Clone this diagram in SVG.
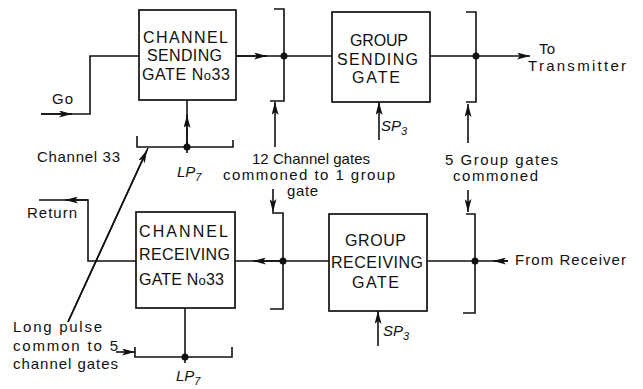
<svg xmlns="http://www.w3.org/2000/svg" width="643" height="389" viewBox="0 0 643 389">
<style>
.box{fill:#fff;stroke:#111;stroke-width:1.7}
.ln{fill:none;stroke:#111;stroke-width:1.6}
.ar{fill:none;stroke:#111;stroke-width:1.6;marker-end:url(#ah)}
.dot{fill:#111}
text{font-family:"Liberation Sans",Arial,sans-serif;font-size:15px;fill:#111}
.bt{font-size:16px}
.it{font-style:italic}
</style>
<defs>
<marker id="ah" viewBox="0 0 13 7" refX="13" refY="3.5" markerWidth="13" markerHeight="7" markerUnits="userSpaceOnUse" orient="auto">
<path d="M0,0 L13,3.5 L0,7 L3,3.5 z" fill="#111"/>
</marker>
</defs>
<rect width="643" height="389" fill="#fff"/>
<g id="connectors">
<path class="ln" d="M41,114 H90 V56 H139"/>
<path class="ar" d="M41,114 H72"/>
<path class="ln" d="M236,56 H332"/>
<path class="ar" d="M236,56 H267"/>
<path class="ln" d="M274,9 H284 V101 H270"/>
<circle class="dot" cx="284" cy="56" r="3.5"/>
<path class="ar" d="M275,147 V102"/>
<path class="ln" d="M187,153 V100"/>
<path class="ar" d="M187,147 V115"/>
<path class="ln" d="M137,136 V147 H233 V140"/>
<circle class="dot" cx="187" cy="147" r="3.5"/>
<path class="ln" d="M68,322 L148,148"/>
<path class="ar" d="M68,322 L147,150"/>
<path class="ar" d="M430,56 H530"/>
<path class="ln" d="M466,12 H476 V102 H466"/>
<circle class="dot" cx="476" cy="56" r="3.5"/>
<path class="ar" d="M379,140 V102"/>
<path class="ar" d="M468,143 V104"/>
<path class="ar" d="M468,190 V212"/>
<path class="ln" d="M466,214 H475 V313 H463"/>
<circle class="dot" cx="475" cy="261" r="3.5"/>
<path class="ln" d="M508,261 H427"/>
<path class="ar" d="M508,261 H493"/>
<path class="ln" d="M329,261 H235"/>
<path class="ar" d="M283,261 H253"/>
<path class="ln" d="M272,213 H283 V309 H270"/>
<circle class="dot" cx="283" cy="261" r="3.5"/>
<path class="ar" d="M273,189 V212"/>
<path class="ar" d="M378,346 V311"/>
<path class="ln" d="M136,261 H88 V200 H39"/>
<path class="ar" d="M88,200 H65"/>
<path class="ln" d="M185,308 V363"/>
<path class="ln" d="M135,347 V357 H232 V347"/>
<circle class="dot" cx="185" cy="357" r="3.5"/>
<path class="ar" d="M116,352 H135"/>
</g>
<g id="channel-sending-gate">
<rect class="box" x="139" y="10" width="97" height="90"/>
<text class="bt" x="143" y="42.5" textLength="85" lengthAdjust="spacing">CHANNEL</text>
<text class="bt" x="147" y="60.5" textLength="75" lengthAdjust="spacing">SENDING</text>
<text class="bt" x="142" y="80" textLength="88" lengthAdjust="spacing">GATE N<tspan font-size="13">o</tspan>33</text>
</g>
<g id="group-sending-gate">
<rect class="box" x="332" y="12" width="98" height="90"/>
<text class="bt" x="350" y="46" textLength="58" lengthAdjust="spacing">GROUP</text>
<text class="bt" x="337" y="65" textLength="81" lengthAdjust="spacing">SENDING</text>
<text class="bt" x="352" y="83" textLength="48" lengthAdjust="spacing">GATE</text>
</g>
<g id="channel-receiving-gate">
<rect class="box" x="136" y="212" width="99" height="96"/>
<text class="bt" x="139" y="237" textLength="89" lengthAdjust="spacing">CHANNEL</text>
<text class="bt" x="139" y="260" textLength="91" lengthAdjust="spacing">RECEIVING</text>
<text class="bt" x="139" y="285" textLength="85" lengthAdjust="spacing">GATE N<tspan font-size="13">o</tspan>33</text>
</g>
<g id="group-receiving-gate">
<rect class="box" x="329" y="214" width="98" height="97"/>
<text class="bt" x="345" y="246" textLength="61" lengthAdjust="spacing">GROUP</text>
<text class="bt" x="331" y="268" textLength="92" lengthAdjust="spacing">RECEIVING</text>
<text class="bt" x="352" y="288" textLength="47" lengthAdjust="spacing">GATE</text>
</g>
<g id="labels">
<text x="52" y="104" textLength="21" lengthAdjust="spacing">Go</text>
<text x="37" y="162" textLength="83" lengthAdjust="spacing">Channel 33</text>
<text class="it" x="177" y="177">LP<tspan dy="4" font-size="11">7</tspan></text>
<text class="it" x="176" y="381">LP<tspan dy="4" font-size="11">7</tspan></text>
<text class="it" x="381" y="131">SP<tspan dy="4" font-size="11">3</tspan></text>
<text class="it" x="383" y="336">SP<tspan dy="4" font-size="11">3</tspan></text>
<text x="252" y="164" textLength="118" lengthAdjust="spacing">12 Channel gates</text>
<text x="223" y="180" textLength="172" lengthAdjust="spacing">commoned to 1 group</text>
<text x="287" y="196" textLength="31" lengthAdjust="spacing">gate</text>
<text x="445" y="165" textLength="113" lengthAdjust="spacing">5 Group gates</text>
<text x="453" y="181" textLength="85" lengthAdjust="spacing">commoned</text>
<text x="539" y="54" textLength="16" lengthAdjust="spacing">To</text>
<text x="528" y="71" textLength="98" lengthAdjust="spacing">Transmitter</text>
<text x="515" y="265" textLength="111" lengthAdjust="spacing">From Receiver</text>
<text x="27" y="218" textLength="50" lengthAdjust="spacing">Return</text>
<text x="13" y="332" textLength="89" lengthAdjust="spacing">Long pulse</text>
<text x="13" y="351" textLength="105" lengthAdjust="spacing">common to 5</text>
<text x="13" y="369" textLength="105" lengthAdjust="spacing">channel gates</text>
</g>
</svg>
